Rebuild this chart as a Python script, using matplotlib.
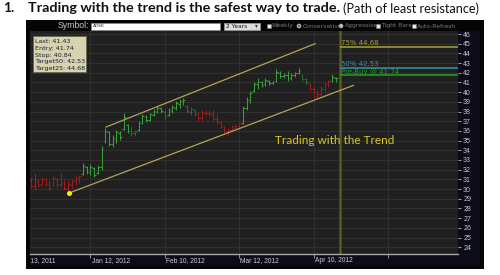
import matplotlib
matplotlib.use("Agg")
import matplotlib.pyplot as plt
from matplotlib.patches import Rectangle, Circle
from matplotlib.transforms import Bbox

# day 0 = Dec 13, 2011 (trading days)
first_day = 4
highs = [31.2, 31.7, 31.0, 31.2, 31.1, 30.8, 31.3, 31.1, 31.7, 30.9, 30.8, 31.0, 31.3, 31.4,
         32.7, 32.4, 32.6, 32.3, 32.5, 34.4, 36.35, 36.0, 35.6, 36.1, 36.0, 37.9, 36.7,
         36.4, 36.1, 37.0, 37.7, 37.6, 37.9, 38.3, 38.6, 38.5, 38.2, 38.4, 38.7, 39.1, 39.3, 39.4,
         38.7, 38.5, 38.2, 38.0, 38.2, 38.2, 38.2, 38.2, 37.7, 37.0, 36.5, 36.3, 36.6, 36.7, 36.9,
         38.6, 39.5, 40.1, 41.0, 41.5, 41.2, 41.5, 41.3, 41.2, 42.4, 42.2, 42.0, 42.2, 42.0, 42.1, 42.5,
         41.9, 41.5, 40.8, 40.6, 40.2, 40.6, 41.0, 41.3, 41.9, 41.6]
lows = [30.1, 29.9, 30.2, 30.4, 30.3, 29.9, 30.3, 30.2, 30.2, 29.9, 29.6, 30.1, 30.4, 30.6,
        31.4, 31.6, 31.5, 31.2, 31.6, 32.0, 34.8, 34.4, 34.3, 34.8, 35.1, 36.1, 35.8,
        35.5, 35.5, 36.0, 36.7, 36.9, 37.0, 37.5, 37.8, 37.9, 37.2, 37.5, 37.9, 38.2, 38.4, 38.7,
        37.9, 37.6, 37.5, 37.0, 37.0, 37.6, 37.5, 37.0, 36.7, 36.3, 35.8, 35.6, 35.9, 36.1, 36.2,
        36.7, 38.2, 38.9, 40.0, 40.3, 40.5, 40.6, 40.7, 40.8, 41.0, 41.5, 41.5, 41.2, 41.3, 41.6, 41.9,
        41.2, 40.8, 40.1, 39.4, 39.3, 39.6, 40.1, 40.5, 41.0, 41.0]
opens = [30.9, 30.3, 30.8, 30.5, 31.0, 30.5, 30.4, 31.0, 30.5, 30.6, 30.0, 30.4, 30.8, 31.1,
         31.6, 32.3, 31.8, 32.2, 31.7, 32.3, 35.0, 35.9, 34.6, 35.2, 35.8, 36.2, 36.6,
         36.0, 35.8, 36.1, 36.8, 37.4, 37.1, 37.6, 38.0, 38.4, 38.0, 37.6, 38.1, 38.4, 38.8, 39.1,
         38.6, 38.0, 38.2, 37.7, 37.3, 37.9, 37.8, 37.7, 37.2, 36.9, 36.4, 35.9, 36.1, 36.3, 36.5,
         36.8, 38.4, 39.2, 40.1, 40.8, 41.0, 40.8, 41.2, 40.9, 41.1, 42.0, 41.7, 41.8, 41.5, 41.8, 42.0,
         41.8, 41.4, 40.8, 40.3, 39.6, 39.8, 40.3, 40.8, 41.1, 41.5]
closes = [30.3, 30.8, 30.4, 31.0, 30.5, 30.1, 31.1, 30.4, 30.6, 30.1, 30.5, 30.8, 31.1, 31.3,
          32.4, 31.8, 32.3, 31.5, 32.3, 34.1, 36.0, 34.7, 35.3, 35.9, 35.4, 37.4, 36.0,
          35.8, 35.9, 36.8, 37.5, 37.1, 37.7, 38.1, 38.4, 38.1, 37.5, 38.2, 38.5, 38.9, 39.1, 39.2,
          38.1, 38.3, 37.7, 37.3, 37.9, 37.8, 37.7, 37.2, 36.9, 36.5, 36.0, 36.1, 36.4, 36.5, 36.7,
          38.4, 39.2, 39.9, 40.8, 41.0, 40.7, 41.3, 40.9, 41.1, 42.1, 41.7, 41.8, 41.5, 41.8, 42.0, 42.2,
          41.4, 41.0, 40.3, 39.6, 39.8, 40.3, 40.8, 41.1, 41.6, 41.43]
# R = down trend, G = up trend, D = weak up
trend = "RRRRRRRRRRRRRRGGGGGGGGGGGGGDDGGGGGGGDGGGGGDDDRRRRRRRRRRRRGGGGGGGGGGGGGGGGDDRRRRRRGG"

tick_days = [0, 20, 40, 60, 80, 100]
tick_labels = ["Dec 13, 2011", "Jan 12, 2012", "Feb 10, 2012", "Mar 12, 2012", "Apr 10, 2012", ""]
price_ticks = list(range(24, 47))

upper_line = ([24.2, 80.4], [36.4, 45.0])
lower_line = ([14.3, 90.7], [29.6, 40.7])
signal_day = 87.1

level_names = ["75% 44.68", "50% 42.53", "Pre-Buy @ 41.74"]
level_values = [44.68, 42.53, 41.74]
level_colors = ["#aaa23c", "#2f97aa", "#23a023"]

info_lines = ["Last: 41.43", "Entry: 41.74", "Stop: 40.84", "Target50: 42.53", "Target25: 44.68"]

bar_colors = {"R": "#a01c1c", "G": "#3a9e3a", "D": "#2a6b2a"}

fig = plt.figure(figsize=(5, 2.75), dpi=100)
fig.patch.set_facecolor("white")
rend = fig.canvas.get_renderer()


def fit(t, width):
    w = t.get_window_extent(rend).width
    t.set_fontsize(t.get_fontsize() * width / w)
    return t


# background layer in pixel units
bg = fig.add_axes([0, 0, 1, 1], zorder=0)
bg.set_xlim(0, 500)
bg.set_ylim(275, 0)
bg.axis("off")

bg.text(3, 8.5, "1.", fontsize=10, fontweight="bold", family="Lato", va="center", color="#111111")
fit(bg.text(28, 8.5, "Trading with the trend is the safest way to trade.", fontsize=10,
            fontweight="bold", family="Lato", va="center", color="#111111"), 313)
fit(bg.text(343, 8.5, "(Path of least resistance)", fontsize=10, family="Lato",
            va="center", color="#111111"), 137)

bg.add_patch(Rectangle((26, 20), 458, 249, facecolor="#050505", edgecolor="none"))
bg.add_patch(Rectangle((30, 254), 450, 12, facecolor="#0b0b1a", edgecolor="none"))
bg.add_patch(Rectangle((458, 31), 22, 235, facecolor="#0b0b1a", edgecolor="none"))

# toolbar
bg.text(89, 26, "Symbol:", fontsize=6.3, family="Liberation Sans", ha="right", va="center", color="#c4c4c4")
bg.add_patch(Rectangle((91, 22.5), 129, 7, facecolor="white", edgecolor="#888888", lw=0.5))
bg.text(93, 26, "ADSK", fontsize=3.2, family="DejaVu Sans", va="center", color="#333333")
bg.add_patch(Rectangle((223.5, 22.5), 36.5, 7, facecolor="#dedede", edgecolor="#999999", lw=0.5))
bg.text(225.5, 26, "2 Years", fontsize=4.2, family="DejaVu Sans", va="center", color="#111111")
bg.text(256, 26, "\u25be", fontsize=4, family="DejaVu Sans", va="center", ha="center", color="#333333")
opts = [(266.5, "box", "Weekly"), (297, "radio_on", "Conservative"), (339, "radio", "Aggressive"),
        (376, "box", "Tight Bars"), (411.5, "box", "Auto-Refresh")]
for x, kind, name in opts:
    if kind == "box":
        bg.add_patch(Rectangle((x, 24), 4, 4, facecolor="#e8e8e8", edgecolor="#777777", lw=0.4))
    else:
        bg.add_patch(Circle((x + 2, 26), 2.1, facecolor="#d8d8d8", edgecolor="#777777", lw=0.4))
        if kind == "radio_on":
            bg.add_patch(Circle((x + 2, 26), 1.0, facecolor="#1f4e9a", edgecolor="none"))
    bg.text(x + 5.5, 26, name, fontsize=4.3, family="DejaVu Sans", va="center", color="#7a7a7a")

# chart
ax = fig.add_axes([30 / 500, 1 - 254 / 275, 428 / 500, 223 / 275], zorder=1)
ax.set_facecolor("#202020")
for s in ["top", "left", "right"]:
    ax.spines[s].set_visible(False)
ax.spines["bottom"].set_color("#a8a8a8")
ax.spines["bottom"].set_linewidth(1.0)

ax.set_yticks(price_ticks)
ax.yaxis.tick_right()
ax.tick_params(axis="y", length=2.5, width=0.6, color="#bbbbbb", pad=1.2,
               labelsize=5, labelcolor="#c8c8c8")
for lab in ax.get_yticklabels():
    lab.set_family("Liberation Sans")
ax.set_xticks(tick_days)
ax.set_xticklabels([])
ax.tick_params(axis="x", length=3, width=0.6, color="#a8a8a8")
ax.grid(True, color="#343434", lw=0.6)
ax.set_axisbelow(True)
# limits after the ticks, set_xticks widens the view otherwise
ax.set_xlim(3.76, 118.82)
ax.set_ylim(23.3, 46.31)

clip = Bbox.from_extents(30, 0, 458, 275)
for d, lab in zip(tick_days, tick_labels):
    t = ax.text(d + 0.3, -0.012, lab, transform=ax.get_xaxis_transform(), fontsize=4.8,
                family="Liberation Sans", ha="left", va="top", color="#d0d0d0")
    t.set_clip_on(True)
    t.set_clip_box(clip)

# OHLC bars
days = list(range(first_day, first_day + len(highs)))
cols = [bar_colors[c] for c in trend]
ax.vlines(days, lows, highs, colors=cols, lw=0.75, zorder=3)
ax.hlines(opens, [d - 0.45 for d in days], days, colors=cols, lw=0.75, zorder=3)
ax.hlines(closes, days, [d + 0.45 for d in days], colors=cols, lw=0.75, zorder=3)

# trend channel
ax.plot(*upper_line, color="#b3a45a", lw=0.9, zorder=4)
ax.plot(*lower_line, color="#b3a45a", lw=0.9, zorder=4)
ax.plot(lower_line[0][0], lower_line[1][0], "o", color="#f2f200", ms=2.6, zorder=5)

# signal line and levels
ax.axvline(signal_day, color="#5c5a1e", lw=1.8, zorder=2)
for name, val, c in zip(level_names, level_values, level_colors):
    ax.hlines(val, signal_day, 118.82, colors=c, lw=1.1, zorder=4)
    ax.text(signal_day + 0.2, val + 0.08, name, fontsize=5, family="DejaVu Sans",
            color=c, va="bottom", ha="left", zorder=5)

fit(ax.text(85.8, 35.0, "Trading with the Trend", fontsize=9, family="Lato",
            color="#d9c81e", ha="center", va="center", zorder=5), 119)

# info box, on its own layer above the chart
box_ax = fig.add_axes([0, 0, 1, 1], zorder=2)
box_ax.set_xlim(0, 500)
box_ax.set_ylim(275, 0)
box_ax.axis("off")
box_ax.add_patch(Rectangle((33, 36), 53, 36, facecolor="#d6d3ae", edgecolor="#6b6b58", lw=0.7))
for k, line in enumerate(info_lines):
    box_ax.text(35, 41.5 + k * 6.8, line, fontsize=4.6, family="DejaVu Sans",
                va="center", color="#1c1c3c")

fig.savefig("out.png", dpi=100)
